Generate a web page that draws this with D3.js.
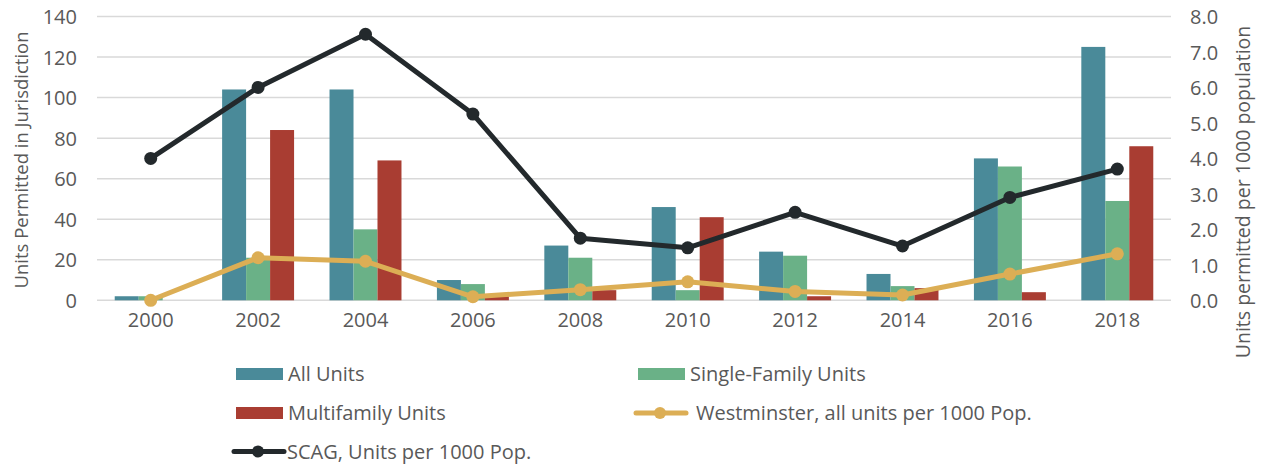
<!DOCTYPE html>
<html><head><meta charset="utf-8">
<script src="https://cdn.jsdelivr.net/npm/d3@7"></script>
<style>
html,body{margin:0;padding:0;background:#fff;}
svg text{font-family:"Open Sans","Liberation Sans",sans-serif;fill:#595959;}
</style></head>
<body><svg id="c" width="1262" height="465"></svg>
<script>
const years = ["2000","2002","2004","2006","2008","2010","2012","2014","2016","2018"];
const allUnits = [2,104,104,10,27,46,24,13,70,125];
const singleFamily = [2,21,35,8,21,5,22,7,66,49];
const multifamily = [0,84,69,2,5,41,2,6,4,76];
const westminster = [0,1.2,1.1,0.1,0.3,0.52,0.25,0.15,0.74,1.31];
const scag = [4.0,6.0,7.5,5.25,1.75,1.48,2.48,1.53,2.9,3.7];
const leftTicks = [0,20,40,60,80,100,120,140];
const rightTicks = [0,1,2,3,4,5,6,7,8];
const barSeries = ["All Units","Single-Family Units","Multifamily Units"];
const lineSeries = ["Westminster, all units per 1000 Pop.","SCAG, Units per 1000 Pop."];

const colors = {bar:["#4A8A99","#6AB187","#A93D32"], west:"#DCAE55", scag:"#23292C"};
const svg = d3.select("#c");
const L=97, R=1171, T=16.5, B=300.3;

const x0 = d3.scaleBand().domain(years).range([L,R]).paddingInner(0.33).paddingOuter(0.165);
const x1 = d3.scaleBand().domain(barSeries).range([0,x0.bandwidth()]);
const yL = d3.scaleLinear().domain([0,140]).range([B,T]);
const yR = d3.scaleLinear().domain([0,8]).range([B,T]);

// grid
svg.append("g").selectAll("line").data(leftTicks).join("line")
  .attr("x1",L).attr("x2",R).attr("y1",d=>yL(d)).attr("y2",d=>yL(d))
  .attr("stroke","#d9d9d9").attr("stroke-width",1.5);

// left axis
const gl = svg.append("g").attr("transform",`translate(${L},0)`)
  .call(d3.axisLeft(yL).tickValues(leftTicks).tickSize(0).tickPadding(20));
gl.select(".domain").remove();
gl.selectAll("text").style("font-size","20px").attr("fill","#595959").attr("dy","0.36em");

// right axis
const gr = svg.append("g").attr("transform",`translate(${R},0)`)
  .call(d3.axisRight(yR).tickValues(rightTicks).tickSize(0).tickPadding(19).tickFormat(d3.format(".1f")));
gr.select(".domain").remove();
gr.selectAll("text").style("font-size","20px").attr("fill","#595959").attr("dy","0.36em");

// bottom axis
const gb = svg.append("g").attr("transform",`translate(0,${B})`)
  .call(d3.axisBottom(x0).tickSize(0).tickPadding(13));
gb.select(".domain").remove();
gb.selectAll("text").style("font-size","20px").attr("fill","#595959");

// bars
const barData = years.map((y,i)=>({year:y, vals:[allUnits[i],singleFamily[i],multifamily[i]]}));
const groups = svg.append("g").selectAll("g").data(barData).join("g")
  .attr("transform",d=>`translate(${x0(d.year)},0)`);
groups.selectAll("rect").data(d=>d.vals.map((v,k)=>({v,k}))).join("rect")
  .attr("x",d=>x1(barSeries[d.k])).attr("width",x1.bandwidth())
  .attr("y",d=>yL(d.v)).attr("height",d=>B-yL(d.v))
  .attr("fill",d=>colors.bar[d.k]);

// lines
const cx = y=>x0(y)+x0.bandwidth()/2;
function drawLine(vals,col){
  const pts = years.map((y,i)=>[cx(y),yR(vals[i])]);
  svg.append("path").attr("d",d3.line()(pts)).attr("fill","none")
    .attr("stroke",col).attr("stroke-width",5).attr("stroke-linejoin","round");
  svg.append("g").selectAll("circle").data(pts).join("circle")
    .attr("cx",d=>d[0]).attr("cy",d=>d[1]).attr("r",6.5).attr("fill",col);
}
drawLine(westminster,colors.west);
drawLine(scag,colors.scag);

// axis titles
svg.append("text").attr("transform","translate(28,160) rotate(-90)")
  .attr("text-anchor","middle").style("font-size","18.5px").text("Units Permitted in Jurisdiction");
svg.append("text").attr("transform","translate(1250,192) rotate(-90)")
  .attr("text-anchor","middle").style("font-size","19.5px").text("Units permitted per 1000 population");

// legend
const lg = svg.append("g");
function swatch(x,y,col,label,tx){
  lg.append("rect").attr("x",x).attr("y",y-6).attr("width",47).attr("height",12).attr("fill",col);
  lg.append("text").attr("x",tx).attr("y",y+7).style("font-size","20px").text(label);
}
function lineItem(x,y,col,label,tx){
  lg.append("line").attr("x1",x).attr("x2",x+50).attr("y1",y).attr("y2",y)
    .attr("stroke",col).attr("stroke-width",5).attr("stroke-linecap","round");
  lg.append("circle").attr("cx",x+24).attr("cy",y).attr("r",6).attr("fill",col);
  lg.append("text").attr("x",tx).attr("y",y+7).style("font-size","20px").text(label);
}
swatch(236,374,colors.bar[0],barSeries[0],288);
swatch(638,374,colors.bar[1],barSeries[1],690);
swatch(236,413,colors.bar[2],barSeries[2],288);
lineItem(636,413,colors.west,lineSeries[0],696);
lineItem(234,451.5,colors.scag,lineSeries[1],287);
</script></body></html>
